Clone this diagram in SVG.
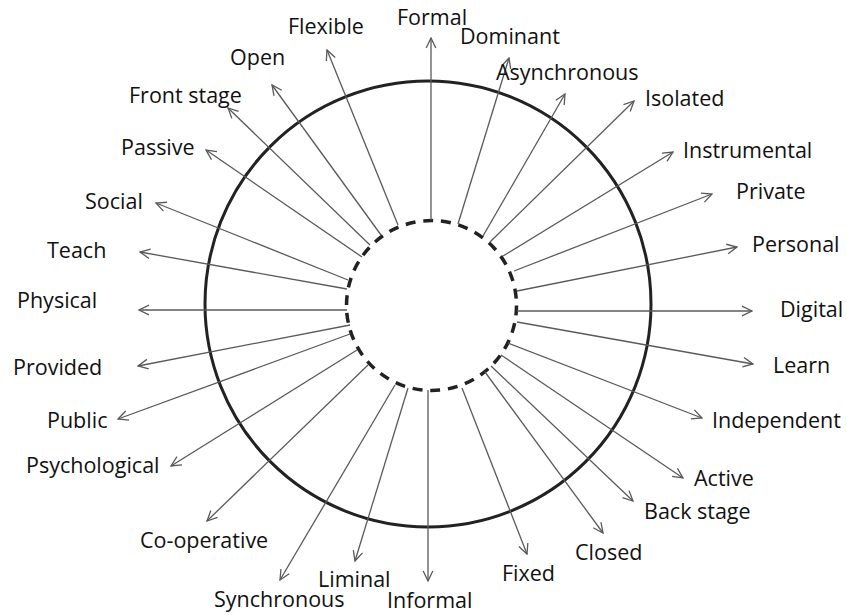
<svg xmlns="http://www.w3.org/2000/svg" width="847" height="615" viewBox="0 0 847 615">
<style>
.lbl{font-family:"Open Sans","Noto Sans","Liberation Sans",sans-serif;font-size:21.5px;fill:#111}
.cn{stroke:#5a5a5a;stroke-width:1.3;fill:none;marker-end:url(#ah)}
</style>
<defs>
<marker id="ah" viewBox="0 0 12 12" refX="11" refY="6" markerWidth="12" markerHeight="12" markerUnits="userSpaceOnUse" orient="auto">
<path d="M1,1.2 L11,6 L1,10.8" fill="none" stroke="#5a5a5a" stroke-width="1.3"/>
</marker>
</defs>
<rect width="847" height="615" fill="#fff"/>
<g id="outer-circle"><circle cx="428" cy="304" r="223" fill="none" stroke="#222" stroke-width="3"/></g>
<g id="inner-circle"><circle cx="431.5" cy="305.5" r="85" fill="none" stroke="#222" stroke-width="3.5" stroke-dasharray="10 7.8"/></g>
<g id="connectors">
<line class="cn" x1="431" y1="220" x2="431" y2="38"/>
<line class="cn" x1="458" y1="224" x2="509" y2="58"/>
<line class="cn" x1="483" y1="236" x2="565" y2="94"/>
<line class="cn" x1="490" y1="242" x2="634" y2="101"/>
<line class="cn" x1="503" y1="256" x2="673" y2="152"/>
<line class="cn" x1="514" y1="271" x2="712" y2="194"/>
<line class="cn" x1="517" y1="291" x2="737" y2="247"/>
<line class="cn" x1="517" y1="311" x2="752" y2="311"/>
<line class="cn" x1="517" y1="322" x2="753" y2="364"/>
<line class="cn" x1="508" y1="343" x2="702" y2="418"/>
<line class="cn" x1="501" y1="355" x2="683" y2="478"/>
<line class="cn" x1="491" y1="366" x2="633" y2="501"/>
<line class="cn" x1="485" y1="372" x2="603" y2="533"/>
<line class="cn" x1="462" y1="388" x2="527" y2="554"/>
<line class="cn" x1="428" y1="390" x2="428" y2="581"/>
<line class="cn" x1="408" y1="388" x2="355" y2="561"/>
<line class="cn" x1="395" y1="385" x2="280" y2="580"/>
<line class="cn" x1="368" y1="365" x2="207" y2="521"/>
<line class="cn" x1="357" y1="350" x2="171" y2="466"/>
<line class="cn" x1="350" y1="334" x2="118" y2="419"/>
<line class="cn" x1="350" y1="325" x2="138" y2="366"/>
<line class="cn" x1="347" y1="310" x2="139" y2="310"/>
<line class="cn" x1="347" y1="289" x2="140" y2="252"/>
<line class="cn" x1="348" y1="280" x2="156" y2="203"/>
<line class="cn" x1="362" y1="257" x2="206" y2="150"/>
<line class="cn" x1="370" y1="245" x2="228" y2="108"/>
<line class="cn" x1="381" y1="235" x2="272" y2="85"/>
<line class="cn" x1="398" y1="225" x2="327" y2="50"/>
</g>
<g id="formal"><text class="lbl" x="397" y="25">Formal</text></g>
<g id="dominant"><text class="lbl" x="460" y="44">Dominant</text></g>
<g id="asynchronous"><text class="lbl" x="496" y="80">Asynchronous</text></g>
<g id="isolated"><text class="lbl" x="645" y="106">Isolated</text></g>
<g id="instrumental"><text class="lbl" x="683" y="158">Instrumental</text></g>
<g id="private"><text class="lbl" x="736" y="199">Private</text></g>
<g id="personal"><text class="lbl" x="752" y="252">Personal</text></g>
<g id="digital"><text class="lbl" x="780" y="317">Digital</text></g>
<g id="learn"><text class="lbl" x="773" y="373">Learn</text></g>
<g id="independent"><text class="lbl" x="712" y="428">Independent</text></g>
<g id="active"><text class="lbl" x="694" y="486">Active</text></g>
<g id="back-stage"><text class="lbl" x="644" y="519">Back stage</text></g>
<g id="closed"><text class="lbl" x="575" y="560">Closed</text></g>
<g id="fixed"><text class="lbl" x="502" y="581">Fixed</text></g>
<g id="informal"><text class="lbl" x="387" y="608">Informal</text></g>
<g id="liminal"><text class="lbl" x="318" y="587">Liminal</text></g>
<g id="synchronous"><text class="lbl" x="214" y="607">Synchronous</text></g>
<g id="co-operative"><text class="lbl" x="140" y="548">Co-operative</text></g>
<g id="psychological"><text class="lbl" x="26" y="473">Psychological</text></g>
<g id="public"><text class="lbl" x="47" y="428">Public</text></g>
<g id="provided"><text class="lbl" x="13" y="375">Provided</text></g>
<g id="physical"><text class="lbl" x="17" y="308">Physical</text></g>
<g id="teach"><text class="lbl" x="47" y="258">Teach</text></g>
<g id="social"><text class="lbl" x="85" y="209">Social</text></g>
<g id="passive"><text class="lbl" x="121" y="155">Passive</text></g>
<g id="front-stage"><text class="lbl" x="129" y="103">Front stage</text></g>
<g id="open"><text class="lbl" x="230" y="65">Open</text></g>
<g id="flexible"><text class="lbl" x="288" y="34">Flexible</text></g>
</svg>
